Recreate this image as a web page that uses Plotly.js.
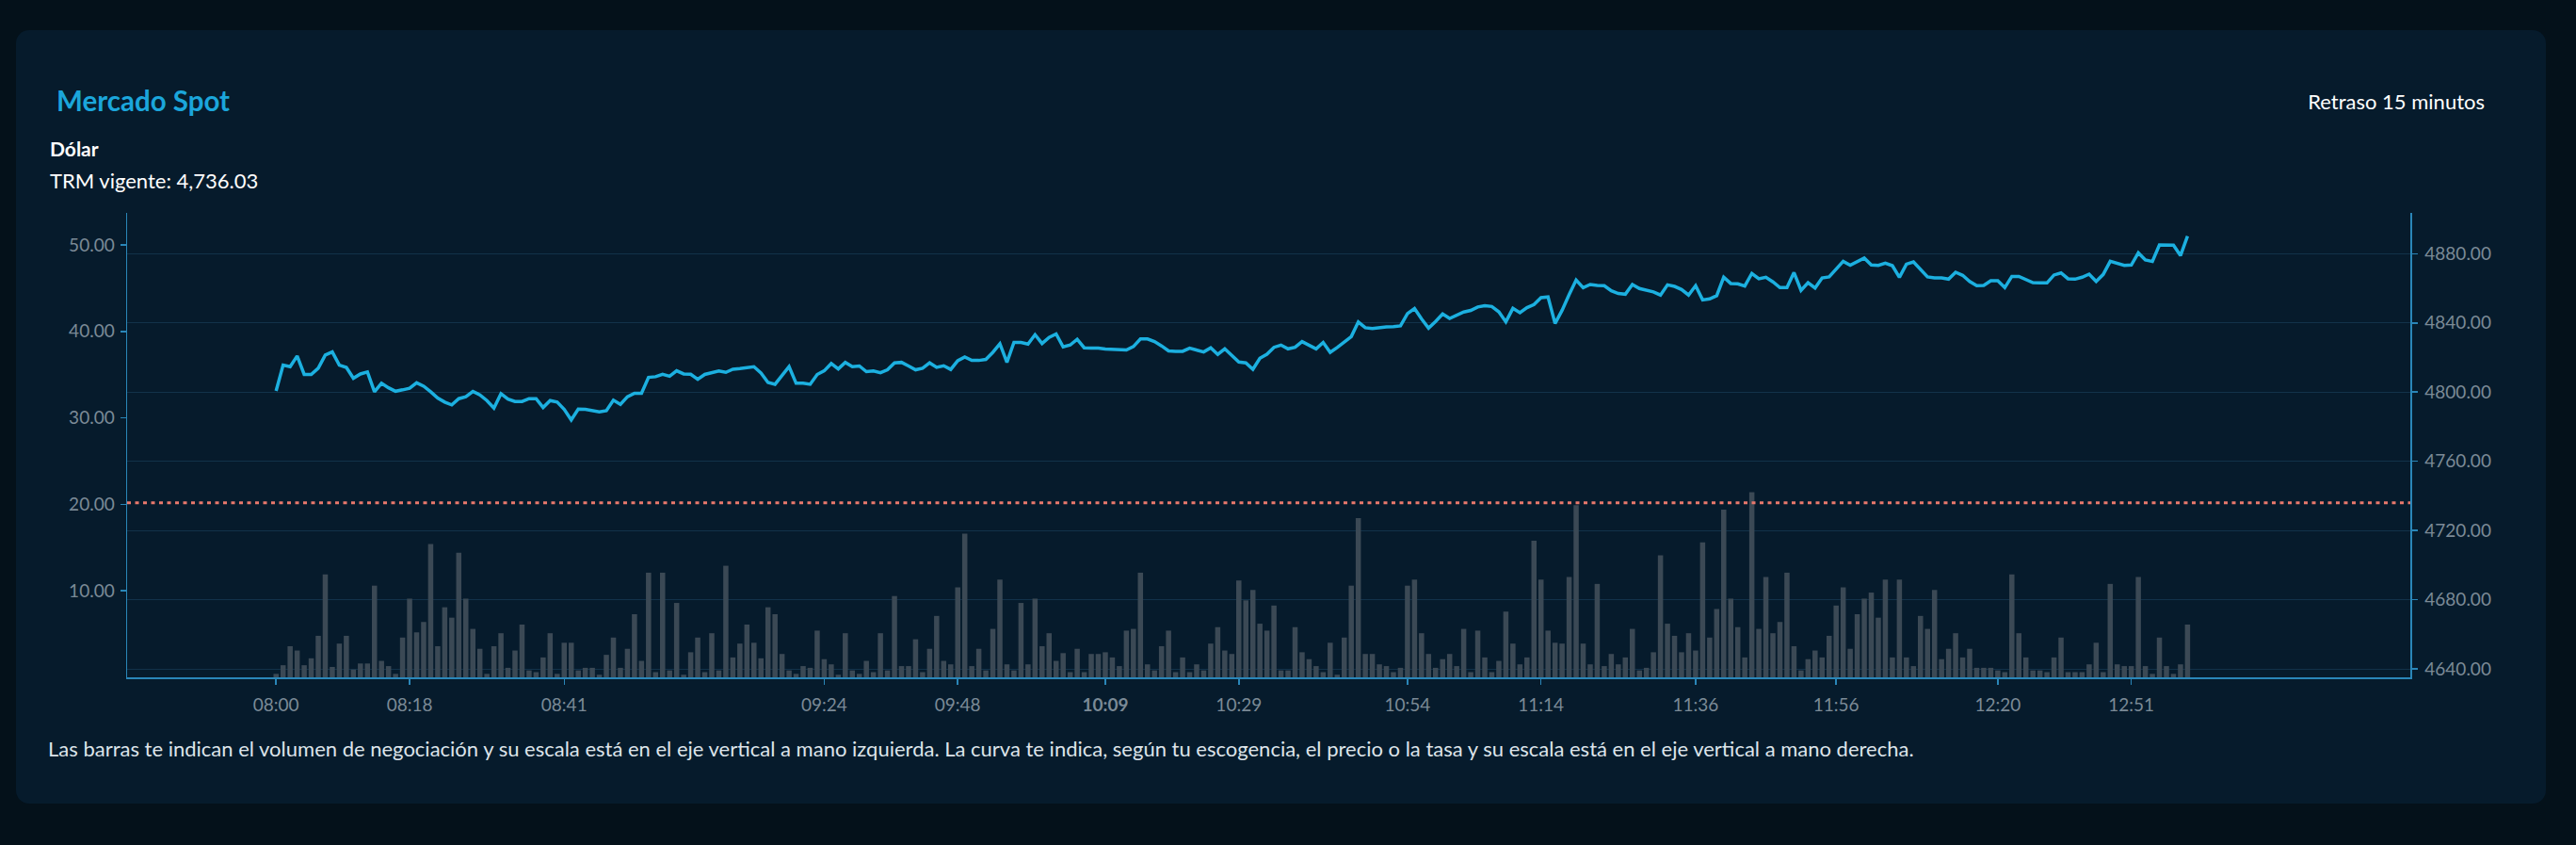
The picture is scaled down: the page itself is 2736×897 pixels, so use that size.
<!DOCTYPE html>
<html>
<head>
<meta charset="utf-8">
<script src="https://cdn.plot.ly/plotly-3.0.1.min.js"></script>
<style>
  html, body { margin:0; padding:0; background:#04111a; width:2736px; height:897px; overflow:hidden; }
  #card { position:absolute; left:17px; top:32px; width:2687px; height:821px; background:#061b2c; border-radius:14px; }
  #chart { position:absolute; left:0; top:0; width:2736px; height:897px; }
  #txt { position:absolute; left:0; top:0; width:2736px; height:897px; pointer-events:none; }
  #txt text { font-family: Lato, "Open Sans", sans-serif; }
</style>
</head>
<body>
<div id="card"></div>
<div id="chart"></div>
<svg id="txt" width="2736" height="897">
  <text x="60" y="118" font-size="29.5" font-weight="700" fill="#1ba6db">Mercado Spot</text>
  <text x="53" y="166" font-size="21" font-weight="700" fill="#ffffff">Dólar</text>
  <text x="53" y="200" font-size="22" font-weight="400" fill="#ffffff">TRM vigente: 4,736.03</text>
  <text x="2639" y="116" font-size="22" font-weight="400" fill="#ffffff" text-anchor="end">Retraso 15 minutos</text>
  <text x="51" y="803" font-size="22" font-weight="400" fill="#dde4ea">Las barras te indican el volumen de negociación y su escala está en el eje vertical a mano izquierda. La curva te indica, según tu escogencia, el precio o la tasa y su escala está en el eje vertical a mano derecha.</text>
</svg>
<script>
// Volumen de negociación (barras, eje izquierdo), una barra por registro
const volumen = [
  0.4,1.4,3.6,3.1,1.4,2.2,4.8,11.9,1.2,3.9,
  4.8,0.9,1.6,1.6,10.6,1.9,1.3,0.4,4.6,9.1,
  5.2,6.4,15.4,3.6,8.1,6.9,14.4,9.1,5.6,3.3,
  0.4,3.6,5.1,1.1,3.1,6.1,0.8,0.6,2.3,5.1,
  0.4,4.0,4.0,0.8,1.1,1.1,0.3,2.6,4.6,1.1,
  3.3,7.3,1.9,12.1,0.6,12.1,0.8,8.6,0.3,2.9,
  4.6,0.6,5.1,0.8,12.9,2.3,3.9,6.1,4.0,2.2,
  8.1,7.3,2.7,0.8,0.4,1.3,1.1,5.4,2.1,1.5,
  0.3,5.1,0.8,0.4,1.9,0.6,5.1,0.8,9.4,1.3,
  1.3,4.4,0.6,3.3,7.1,1.9,1.5,10.4,16.6,1.3,
  3.3,0.8,5.6,11.3,1.5,0.8,8.6,1.5,9.1,3.6,
  5.1,1.9,2.8,0.6,3.3,0.6,2.7,2.7,2.9,2.3,
  1.3,5.4,5.6,12.1,1.5,0.8,3.6,5.4,0.6,2.3,
  0.6,1.5,0.8,3.9,5.8,3.1,2.7,11.2,8.9,10.1,
  6.2,5.4,8.3,0.8,0.8,5.8,2.9,2.1,1.3,0.6,
  4.0,0.3,4.6,10.6,18.4,2.7,2.7,1.5,1.3,0.6,
  1.1,10.6,11.3,5.1,2.7,1.1,2.1,2.7,1.3,5.6,
  0.6,5.4,2.3,0.6,1.9,7.6,3.9,1.5,2.3,15.8,
  11.3,5.4,4.0,3.9,11.6,19.9,3.9,1.5,10.8,1.3,
  2.7,1.5,2.3,5.6,0.8,1.1,2.9,14.1,6.2,4.8,
  2.9,5.1,3.1,15.6,4.6,7.9,19.4,9.1,5.8,2.3,
  21.4,5.6,11.6,5.1,6.4,12.1,3.6,0.8,2.1,3.1,
  2.3,4.8,8.3,10.4,3.3,7.3,9.1,9.8,6.9,11.3,
  2.3,11.3,2.3,1.3,7.1,5.6,10.1,2.1,3.3,5.1,
  2.3,3.3,1.1,1.1,1.1,0.8,0.6,11.9,5.1,2.3,
  0.8,0.8,0.6,2.3,4.6,0.6,0.6,0.6,1.5,4.0,
  0.6,10.8,1.5,1.3,1.3,11.6,1.3,0.4,4.6,1.3,
  0.4,1.5,6.1
];

// Precio del dólar (curva, eje derecho)
const precio = [
  4800.7,4815.6,4814.7,4820.9,4810.2,4810.2,4813.8,4821.4,4823.2,4815.6,
  4814.3,4808.0,4810.5,4811.6,4800.2,4805.1,4802.5,4800.5,4801.3,4802.2,
  4805.4,4803.4,4800.2,4796.6,4794.2,4792.6,4796.2,4797.3,4800.4,4798.4,
  4795.1,4790.7,4799.1,4796.0,4794.6,4794.6,4796.2,4796.2,4791.1,4795.1,
  4794.2,4790.0,4783.9,4790.2,4790.0,4789.3,4788.6,4789.3,4795.3,4792.9,
  4797.3,4799.3,4799.3,4808.5,4808.9,4810.3,4809.2,4812.3,4810.5,4810.3,
  4807.4,4810.2,4811.2,4812.2,4811.4,4813.2,4813.6,4814.3,4814.7,4811.1,
  4805.6,4804.5,4809.6,4814.7,4805.1,4805.1,4804.5,4810.2,4812.3,4816.5,
  4813.4,4817.2,4814.7,4815.1,4811.8,4812.2,4811.2,4812.9,4816.9,4817.2,
  4815.1,4812.9,4813.8,4816.9,4814.3,4815.2,4813.1,4818.1,4820.3,4818.3,
  4818.3,4818.9,4823.0,4827.9,4817.2,4828.7,4828.7,4827.8,4833.2,4828.1,
  4831.6,4833.6,4826.1,4827.2,4830.5,4825.6,4825.4,4825.4,4824.9,4824.7,
  4824.7,4824.3,4826.3,4830.7,4830.7,4829.2,4826.7,4823.8,4823.6,4823.6,
  4825.4,4824.3,4823.2,4825.6,4821.8,4825.0,4820.9,4817.4,4816.9,4813.2,
  4819.6,4821.9,4825.9,4827.2,4825.0,4825.9,4829.2,4827.2,4825.0,4828.7,
  4823.0,4825.8,4828.8,4832.1,4840.5,4837.2,4836.8,4837.4,4837.7,4837.9,
  4838.3,4845.4,4848.3,4842.3,4837.0,4840.8,4845.2,4842.6,4844.3,4846.3,
  4847.2,4849.2,4849.9,4849.5,4846.4,4840.6,4848.4,4845.9,4848.8,4850.6,
  4854.6,4855.0,4839.7,4847.3,4856.4,4864.8,4860.4,4862.2,4861.7,4861.5,
  4858.6,4857.0,4856.6,4862.2,4859.9,4858.9,4857.9,4856.1,4862.0,4861.1,
  4859.3,4856.1,4861.5,4853.3,4853.9,4855.7,4866.4,4862.8,4862.6,4861.3,
  4868.6,4865.5,4866.4,4863.7,4860.4,4860.4,4869.1,4858.8,4863.3,4860.2,
  4866.0,4866.6,4870.9,4875.6,4873.3,4875.5,4877.5,4873.5,4873.3,4874.6,
  4873.1,4866.4,4874.0,4875.3,4870.9,4866.6,4866.0,4866.0,4865.3,4869.3,
  4867.5,4864.0,4861.5,4861.7,4864.4,4864.4,4860.4,4866.9,4866.9,4864.9,
  4863.3,4863.1,4863.1,4867.7,4868.9,4865.5,4865.3,4866.4,4868.2,4864.0,
  4868.0,4875.6,4874.6,4873.3,4873.5,4880.5,4876.4,4875.5,4885.1,4884.9,
  4884.9,4878.9,4890.2
];

// Etiquetas del eje horizontal (posición de registro y hora)
const tickIndex = [0, 19, 41, 78, 97, 118, 137, 161, 180, 202, 222, 245, 264];
const tickLabels = ["08:00","08:18","08:41","09:24","09:48","<b>10:09</b>","10:29","10:54","11:14","11:36","11:56","12:20","12:51"];

// TRM vigente (línea punteada, eje derecho)
const trm = 4736.03;

const xIdx = volumen.map((_, i) => i);

const axisBlue = '#2a86b8';
const tickGray = '#7b8a96';
const tickFont = { family: 'Lato, "Open Sans", sans-serif', size: 19, color: tickGray };

const traces = [
  {
    type: 'bar', x: xIdx, y: volumen, yaxis: 'y', width: 0.74,
    marker: { color: '#3b4955', line: { width: 0 } },
    hoverinfo: 'skip'
  },
  {
    type: 'scatter', mode: 'lines', x: xIdx, y: precio, yaxis: 'y2',
    line: { color: '#1cb0e0', width: 3.5 },
    hoverinfo: 'skip'
  }
];

const layout = {
  width: 2736, height: 897,
  margin: { l: 135, r: 176, t: 226, b: 178, pad: 0 },
  paper_bgcolor: 'rgba(0,0,0,0)',
  plot_bgcolor: 'rgba(0,0,0,0)',
  showlegend: false,
  bargap: 0.2,
  xaxis: {
    range: [-21.2, 303.7],
    tickmode: 'array', tickvals: tickIndex, ticktext: tickLabels,
    showgrid: false, zeroline: false,
    showline: true, linecolor: axisBlue, linewidth: 1.5,
    ticks: 'outside', ticklen: 6, tickcolor: axisBlue, tickwidth: 1.5,
    tickfont: tickFont, ticklabelstandoff: 6
  },
  yaxis: {
    range: [0, 53.7],
    tickmode: 'array', tickvals: [10, 20, 30, 40, 50], tickformat: '.2f',
    showgrid: false, zeroline: false,
    showline: true, linecolor: axisBlue, linewidth: 1.5,
    ticks: 'outside', ticklen: 6, tickcolor: axisBlue, tickwidth: 1.5,
    tickfont: tickFont, ticklabelstandoff: 2
  },
  yaxis2: {
    overlaying: 'y', side: 'right',
    range: [4635.1, 4903.6],
    tick0: 4640, dtick: 40, tickformat: '.2f',
    showgrid: true, gridcolor: '#12324a', gridwidth: 1,
    zeroline: false,
    showline: true, linecolor: axisBlue, linewidth: 1.5,
    ticks: 'outside', ticklen: 6, tickcolor: axisBlue, tickwidth: 1.5,
    tickfont: tickFont, ticklabelstandoff: 4
  },
  shapes: [
    {
      type: 'line', xref: 'paper', x0: 0, x1: 1, yref: 'y2', y0: trm, y1: trm,
      line: { color: '#e8786c', width: 3, dash: '4px,4.5px' }
    }
  ]
};

Plotly.newPlot('chart', traces, layout, { staticPlot: true, displayModeBar: false });
</script>
</body>
</html>
